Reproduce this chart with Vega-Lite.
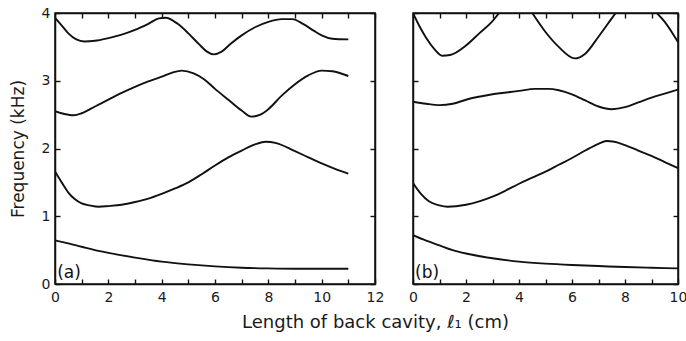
{
  "$schema": "https://vega.github.io/schema/vega-lite/v6.json",
  "padding": {"left": 8, "top": 5, "right": 0, "bottom": 0},
  "background": "white",
  "bounds": "flush",
  "spacing": 38,
  "config": {
    "view": {"stroke": "#111", "strokeWidth": 1.5},
    "font": "DejaVu Sans",
    "axis": {
      "grid": true,
      "gridDash": [5, 1000],
      "gridColor": "#111",
      "gridWidth": 1.4,
      "gridOpacity": 1,
      "ticks": false,
      "domainColor": "#111",
      "domainWidth": 1.5,
      "labelFont": "DejaVu Sans",
      "labelFontSize": 14,
      "labelColor": "#1a1a1a",
      "labelFlush": false,
      "labelOverlap": false,
      "titleFont": "DejaVu Sans",
      "titleFontSize": 17,
      "titleFontWeight": "normal",
      "titleColor": "#1a1a1a"
    }
  },
  "datasets": {
    "curves": [
      {"panel": "a", "s": "a1", "x": 0, "f": 0.645},
      {"panel": "a", "s": "a1", "x": 0.5, "f": 0.6},
      {"panel": "a", "s": "a1", "x": 1, "f": 0.55},
      {"panel": "a", "s": "a1", "x": 1.5, "f": 0.5},
      {"panel": "a", "s": "a1", "x": 2, "f": 0.46},
      {"panel": "a", "s": "a1", "x": 3, "f": 0.39},
      {"panel": "a", "s": "a1", "x": 4, "f": 0.33},
      {"panel": "a", "s": "a1", "x": 5, "f": 0.29},
      {"panel": "a", "s": "a1", "x": 6, "f": 0.26},
      {"panel": "a", "s": "a1", "x": 7, "f": 0.24},
      {"panel": "a", "s": "a1", "x": 8, "f": 0.23},
      {"panel": "a", "s": "a1", "x": 9, "f": 0.225},
      {"panel": "a", "s": "a1", "x": 10, "f": 0.225},
      {"panel": "a", "s": "a1", "x": 11, "f": 0.225},

      {"panel": "a", "s": "a2", "x": 0, "f": 1.66},
      {"panel": "a", "s": "a2", "x": 0.25, "f": 1.5},
      {"panel": "a", "s": "a2", "x": 0.5, "f": 1.35},
      {"panel": "a", "s": "a2", "x": 0.75, "f": 1.25},
      {"panel": "a", "s": "a2", "x": 1, "f": 1.19},
      {"panel": "a", "s": "a2", "x": 1.3, "f": 1.16},
      {"panel": "a", "s": "a2", "x": 1.65, "f": 1.14},
      {"panel": "a", "s": "a2", "x": 2, "f": 1.15},
      {"panel": "a", "s": "a2", "x": 2.5, "f": 1.17},
      {"panel": "a", "s": "a2", "x": 3, "f": 1.21},
      {"panel": "a", "s": "a2", "x": 3.5, "f": 1.26},
      {"panel": "a", "s": "a2", "x": 4, "f": 1.33},
      {"panel": "a", "s": "a2", "x": 4.5, "f": 1.41},
      {"panel": "a", "s": "a2", "x": 5, "f": 1.5},
      {"panel": "a", "s": "a2", "x": 5.5, "f": 1.62},
      {"panel": "a", "s": "a2", "x": 6, "f": 1.75},
      {"panel": "a", "s": "a2", "x": 6.5, "f": 1.87},
      {"panel": "a", "s": "a2", "x": 7, "f": 1.97},
      {"panel": "a", "s": "a2", "x": 7.5, "f": 2.06},
      {"panel": "a", "s": "a2", "x": 7.9, "f": 2.1},
      {"panel": "a", "s": "a2", "x": 8.3, "f": 2.08},
      {"panel": "a", "s": "a2", "x": 9, "f": 1.96},
      {"panel": "a", "s": "a2", "x": 9.5, "f": 1.87},
      {"panel": "a", "s": "a2", "x": 10, "f": 1.78},
      {"panel": "a", "s": "a2", "x": 10.5, "f": 1.7},
      {"panel": "a", "s": "a2", "x": 11, "f": 1.63},

      {"panel": "a", "s": "a3", "x": 0, "f": 2.55},
      {"panel": "a", "s": "a3", "x": 0.35, "f": 2.51},
      {"panel": "a", "s": "a3", "x": 0.7, "f": 2.49},
      {"panel": "a", "s": "a3", "x": 1, "f": 2.52},
      {"panel": "a", "s": "a3", "x": 1.5, "f": 2.62},
      {"panel": "a", "s": "a3", "x": 2, "f": 2.72},
      {"panel": "a", "s": "a3", "x": 2.5, "f": 2.82},
      {"panel": "a", "s": "a3", "x": 3, "f": 2.91},
      {"panel": "a", "s": "a3", "x": 3.5, "f": 2.99},
      {"panel": "a", "s": "a3", "x": 4, "f": 3.06},
      {"panel": "a", "s": "a3", "x": 4.4, "f": 3.12},
      {"panel": "a", "s": "a3", "x": 4.75, "f": 3.15},
      {"panel": "a", "s": "a3", "x": 5.2, "f": 3.11},
      {"panel": "a", "s": "a3", "x": 5.6, "f": 3.02},
      {"panel": "a", "s": "a3", "x": 6, "f": 2.88},
      {"panel": "a", "s": "a3", "x": 6.5, "f": 2.72},
      {"panel": "a", "s": "a3", "x": 7, "f": 2.56},
      {"panel": "a", "s": "a3", "x": 7.35, "f": 2.47},
      {"panel": "a", "s": "a3", "x": 7.7, "f": 2.5},
      {"panel": "a", "s": "a3", "x": 8, "f": 2.58},
      {"panel": "a", "s": "a3", "x": 8.5, "f": 2.78},
      {"panel": "a", "s": "a3", "x": 9, "f": 2.95},
      {"panel": "a", "s": "a3", "x": 9.5, "f": 3.08},
      {"panel": "a", "s": "a3", "x": 10, "f": 3.15},
      {"panel": "a", "s": "a3", "x": 10.4, "f": 3.14},
      {"panel": "a", "s": "a3", "x": 11, "f": 3.07},

      {"panel": "a", "s": "a4", "x": 0, "f": 3.93},
      {"panel": "a", "s": "a4", "x": 0.2, "f": 3.84},
      {"panel": "a", "s": "a4", "x": 0.5, "f": 3.7},
      {"panel": "a", "s": "a4", "x": 0.8, "f": 3.61},
      {"panel": "a", "s": "a4", "x": 1.1, "f": 3.58},
      {"panel": "a", "s": "a4", "x": 1.5, "f": 3.59},
      {"panel": "a", "s": "a4", "x": 2, "f": 3.63},
      {"panel": "a", "s": "a4", "x": 2.5, "f": 3.68},
      {"panel": "a", "s": "a4", "x": 3, "f": 3.75},
      {"panel": "a", "s": "a4", "x": 3.5, "f": 3.84},
      {"panel": "a", "s": "a4", "x": 3.9, "f": 3.92},
      {"panel": "a", "s": "a4", "x": 4.15, "f": 3.93},
      {"panel": "a", "s": "a4", "x": 4.6, "f": 3.84},
      {"panel": "a", "s": "a4", "x": 5, "f": 3.7},
      {"panel": "a", "s": "a4", "x": 5.4, "f": 3.54},
      {"panel": "a", "s": "a4", "x": 5.7, "f": 3.43},
      {"panel": "a", "s": "a4", "x": 5.95, "f": 3.39},
      {"panel": "a", "s": "a4", "x": 6.25, "f": 3.43},
      {"panel": "a", "s": "a4", "x": 6.6, "f": 3.55},
      {"panel": "a", "s": "a4", "x": 7, "f": 3.67},
      {"panel": "a", "s": "a4", "x": 7.5, "f": 3.79},
      {"panel": "a", "s": "a4", "x": 8, "f": 3.87},
      {"panel": "a", "s": "a4", "x": 8.5, "f": 3.91},
      {"panel": "a", "s": "a4", "x": 8.9, "f": 3.91},
      {"panel": "a", "s": "a4", "x": 9.3, "f": 3.84},
      {"panel": "a", "s": "a4", "x": 9.7, "f": 3.74},
      {"panel": "a", "s": "a4", "x": 10, "f": 3.67},
      {"panel": "a", "s": "a4", "x": 10.4, "f": 3.62},
      {"panel": "a", "s": "a4", "x": 11, "f": 3.61},

      {"panel": "b", "s": "b1", "x": 0, "f": 0.72},
      {"panel": "b", "s": "b1", "x": 0.5, "f": 0.64},
      {"panel": "b", "s": "b1", "x": 1, "f": 0.57},
      {"panel": "b", "s": "b1", "x": 1.5, "f": 0.5},
      {"panel": "b", "s": "b1", "x": 2, "f": 0.45},
      {"panel": "b", "s": "b1", "x": 3, "f": 0.38},
      {"panel": "b", "s": "b1", "x": 4, "f": 0.33},
      {"panel": "b", "s": "b1", "x": 5, "f": 0.3},
      {"panel": "b", "s": "b1", "x": 6, "f": 0.28},
      {"panel": "b", "s": "b1", "x": 7, "f": 0.265},
      {"panel": "b", "s": "b1", "x": 8, "f": 0.25},
      {"panel": "b", "s": "b1", "x": 9, "f": 0.24},
      {"panel": "b", "s": "b1", "x": 10, "f": 0.23},

      {"panel": "b", "s": "b2", "x": 0, "f": 1.49},
      {"panel": "b", "s": "b2", "x": 0.3, "f": 1.33},
      {"panel": "b", "s": "b2", "x": 0.6, "f": 1.22},
      {"panel": "b", "s": "b2", "x": 1, "f": 1.16},
      {"panel": "b", "s": "b2", "x": 1.3, "f": 1.14},
      {"panel": "b", "s": "b2", "x": 2, "f": 1.17},
      {"panel": "b", "s": "b2", "x": 2.5, "f": 1.22},
      {"panel": "b", "s": "b2", "x": 3, "f": 1.29},
      {"panel": "b", "s": "b2", "x": 3.5, "f": 1.38},
      {"panel": "b", "s": "b2", "x": 4, "f": 1.48},
      {"panel": "b", "s": "b2", "x": 4.5, "f": 1.57},
      {"panel": "b", "s": "b2", "x": 5, "f": 1.66},
      {"panel": "b", "s": "b2", "x": 5.5, "f": 1.76},
      {"panel": "b", "s": "b2", "x": 6, "f": 1.86},
      {"panel": "b", "s": "b2", "x": 6.5, "f": 1.97},
      {"panel": "b", "s": "b2", "x": 7, "f": 2.07},
      {"panel": "b", "s": "b2", "x": 7.3, "f": 2.11},
      {"panel": "b", "s": "b2", "x": 7.6, "f": 2.1},
      {"panel": "b", "s": "b2", "x": 8, "f": 2.05},
      {"panel": "b", "s": "b2", "x": 8.5, "f": 1.97},
      {"panel": "b", "s": "b2", "x": 9, "f": 1.89},
      {"panel": "b", "s": "b2", "x": 9.5, "f": 1.8},
      {"panel": "b", "s": "b2", "x": 10, "f": 1.71},

      {"panel": "b", "s": "b3", "x": 0, "f": 2.69},
      {"panel": "b", "s": "b3", "x": 0.5, "f": 2.66},
      {"panel": "b", "s": "b3", "x": 1, "f": 2.64},
      {"panel": "b", "s": "b3", "x": 1.5, "f": 2.66},
      {"panel": "b", "s": "b3", "x": 2, "f": 2.72},
      {"panel": "b", "s": "b3", "x": 3, "f": 2.8},
      {"panel": "b", "s": "b3", "x": 4, "f": 2.85},
      {"panel": "b", "s": "b3", "x": 4.6, "f": 2.88},
      {"panel": "b", "s": "b3", "x": 5.1, "f": 2.88},
      {"panel": "b", "s": "b3", "x": 5.5, "f": 2.86},
      {"panel": "b", "s": "b3", "x": 6, "f": 2.8},
      {"panel": "b", "s": "b3", "x": 6.5, "f": 2.71},
      {"panel": "b", "s": "b3", "x": 7, "f": 2.62},
      {"panel": "b", "s": "b3", "x": 7.5, "f": 2.58},
      {"panel": "b", "s": "b3", "x": 8, "f": 2.61},
      {"panel": "b", "s": "b3", "x": 8.5, "f": 2.68},
      {"panel": "b", "s": "b3", "x": 9, "f": 2.75},
      {"panel": "b", "s": "b3", "x": 9.5, "f": 2.81},
      {"panel": "b", "s": "b3", "x": 10, "f": 2.87},

      {"panel": "b", "s": "b4", "x": 0, "f": 4.0},
      {"panel": "b", "s": "b4", "x": 0.25, "f": 3.8},
      {"panel": "b", "s": "b4", "x": 0.5, "f": 3.63},
      {"panel": "b", "s": "b4", "x": 0.8, "f": 3.47},
      {"panel": "b", "s": "b4", "x": 1.1, "f": 3.37},
      {"panel": "b", "s": "b4", "x": 1.4, "f": 3.38},
      {"panel": "b", "s": "b4", "x": 2, "f": 3.52},
      {"panel": "b", "s": "b4", "x": 2.5, "f": 3.7},
      {"panel": "b", "s": "b4", "x": 3, "f": 3.88},
      {"panel": "b", "s": "b4", "x": 3.25, "f": 4.0},

      {"panel": "b", "s": "b5", "x": 4.5, "f": 4.0},
      {"panel": "b", "s": "b5", "x": 5, "f": 3.72},
      {"panel": "b", "s": "b5", "x": 5.5, "f": 3.5},
      {"panel": "b", "s": "b5", "x": 6.1, "f": 3.33},
      {"panel": "b", "s": "b5", "x": 6.5, "f": 3.4},
      {"panel": "b", "s": "b5", "x": 7, "f": 3.65},
      {"panel": "b", "s": "b5", "x": 7.5, "f": 3.92},
      {"panel": "b", "s": "b5", "x": 7.65, "f": 4.0},

      {"panel": "b", "s": "b6", "x": 9.2, "f": 4.0},
      {"panel": "b", "s": "b6", "x": 9.5, "f": 3.87},
      {"panel": "b", "s": "b6", "x": 10, "f": 3.57}
    ],
    "labels": [
      {"panel": "a", "x": 0.08, "f": 0.16, "t": "(a)"},
      {"panel": "b", "x": 0.08, "f": 0.16, "t": "(b)"}
    ]
  },
  "hconcat": [
    {
      "width": 320,
      "height": 271,
      "layer": [
        {
          "data": {"name": "curves"},
          "transform": [{"filter": "datum.panel == 'a'"}],
          "mark": {"type": "line", "interpolate": "monotone", "color": "#111", "strokeWidth": 1.9, "clip": true},
          "encoding": {
            "x": {"field": "x", "type": "quantitative", "scale": {"domain": [0, 12], "nice": false},
              "axis": {"orient": "bottom", "grid": true, "values": [0,1,2,3,4,5,6,7,8,9,10,11,12], "labelExpr": "datum.value % 2 == 0 ? datum.label : ''", "labelPadding": 6, "title": "Length of back cavity, ℓ₁ (cm)", "titleFontSize": 18, "titleX": 320, "titleAlign": "center", "titlePadding": 9}},
            "y": {"field": "f", "type": "quantitative", "scale": {"domain": [0, 4], "nice": false},
              "axis": {"orient": "left", "grid": true, "values": [0,1,2,3,4], "labelPadding": 5, "title": "Frequency (kHz)", "titleX": -36.5, "titleY": 135.5, "titleAngle": -90, "titleAlign": "center", "titleBaseline": "middle"}},
            "detail": {"field": "s"}
          }
        },
        {
          "data": {"name": "curves"},
          "transform": [{"filter": "datum.panel == 'a'"}],
          "mark": {"type": "line", "strokeOpacity": 0},
          "encoding": {
            "x": {"field": "x", "type": "quantitative", "scale": {"domain": [0, 12], "nice": false},
              "axis": {"orient": "top", "grid": true, "values": [0,1,2,3,4,5,6,7,8,9,10,11,12], "labels": false, "title": null}},
            "y": {"field": "f", "type": "quantitative", "scale": {"domain": [0, 4], "nice": false},
              "axis": {"orient": "right", "grid": true, "values": [0,1,2,3,4], "labels": false, "title": null}},
            "detail": {"field": "s"}
          }
        },
        {
          "data": {"name": "labels"},
          "transform": [{"filter": "datum.panel == 'a'"}],
          "mark": {"type": "text", "align": "left", "baseline": "middle", "fontSize": 17, "color": "#111", "font": "DejaVu Sans"},
          "encoding": {
            "x": {"field": "x", "type": "quantitative", "axis": null},
            "y": {"field": "f", "type": "quantitative", "axis": null},
            "text": {"field": "t"}
          }
        }
      ],
      "resolve": {"axis": {"x": "independent", "y": "independent"}}
    },
    {
      "width": 265,
      "height": 271,
      "layer": [
        {
          "data": {"name": "curves"},
          "transform": [{"filter": "datum.panel == 'b'"}],
          "mark": {"type": "line", "interpolate": "monotone", "color": "#111", "strokeWidth": 1.9, "clip": true},
          "encoding": {
            "x": {"field": "x", "type": "quantitative", "scale": {"domain": [0, 10], "nice": false},
              "axis": {"orient": "bottom", "grid": true, "values": [0,1,2,3,4,5,6,7,8,9,10], "labelExpr": "datum.value % 2 == 0 ? datum.label : ''", "labelPadding": 6, "title": null}},
            "y": {"field": "f", "type": "quantitative", "scale": {"domain": [0, 4], "nice": false},
              "axis": {"orient": "left", "grid": true, "values": [0,1,2,3,4], "labels": false, "title": null}},
            "detail": {"field": "s"}
          }
        },
        {
          "data": {"name": "curves"},
          "transform": [{"filter": "datum.panel == 'b'"}],
          "mark": {"type": "line", "strokeOpacity": 0},
          "encoding": {
            "x": {"field": "x", "type": "quantitative", "scale": {"domain": [0, 10], "nice": false},
              "axis": {"orient": "top", "grid": true, "values": [0,1,2,3,4,5,6,7,8,9,10], "labels": false, "title": null}},
            "y": {"field": "f", "type": "quantitative", "scale": {"domain": [0, 4], "nice": false},
              "axis": {"orient": "right", "grid": true, "values": [0,1,2,3,4], "labels": false, "title": null}},
            "detail": {"field": "s"}
          }
        },
        {
          "data": {"name": "labels"},
          "transform": [{"filter": "datum.panel == 'b'"}],
          "mark": {"type": "text", "align": "left", "baseline": "middle", "fontSize": 17, "color": "#111", "font": "DejaVu Sans"},
          "encoding": {
            "x": {"field": "x", "type": "quantitative", "axis": null},
            "y": {"field": "f", "type": "quantitative", "axis": null},
            "text": {"field": "t"}
          }
        }
      ],
      "resolve": {"axis": {"x": "independent", "y": "independent"}}
    }
  ]
}
